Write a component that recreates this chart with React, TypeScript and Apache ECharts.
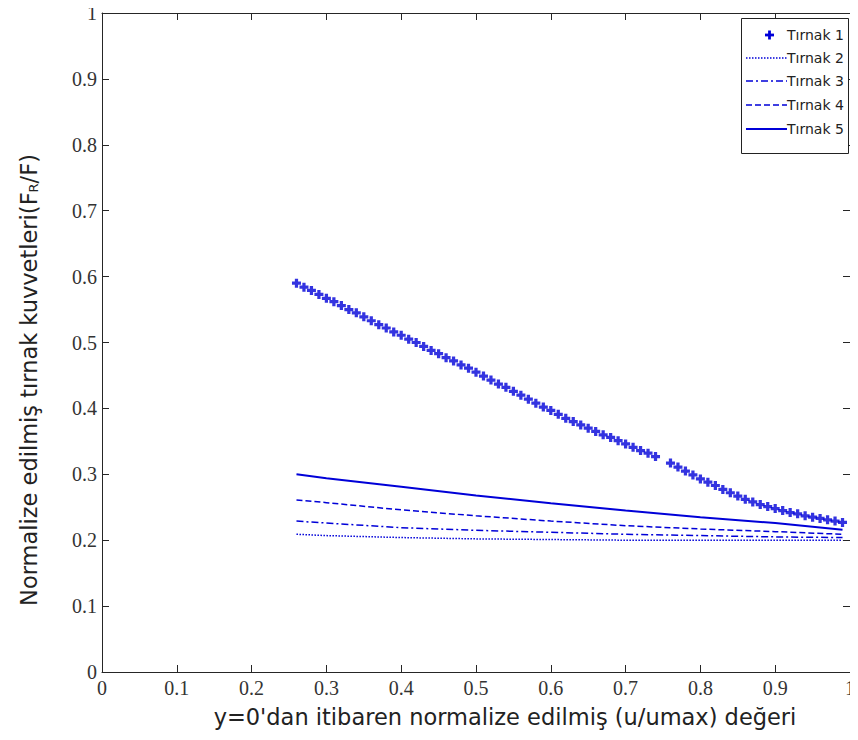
import React, { useEffect, useRef } from "react";
import * as echarts from "echarts";

// Tırnak 1 (plus markers), x from 0.26 to 0.99, one point missing at 0.75
const t1X = [
  0.26, 0.27, 0.28, 0.29, 0.30, 0.31, 0.32, 0.33, 0.34, 0.35, 0.36, 0.37, 0.38, 0.39,
  0.40, 0.41, 0.42, 0.43, 0.44, 0.45, 0.46, 0.47, 0.48, 0.49, 0.50, 0.51, 0.52, 0.53,
  0.54, 0.55, 0.56, 0.57, 0.58, 0.59, 0.60, 0.61, 0.62, 0.63, 0.64, 0.65, 0.66, 0.67,
  0.68, 0.69, 0.70, 0.71, 0.72, 0.73, 0.74, 0.76, 0.77, 0.78, 0.79, 0.80, 0.81, 0.82,
  0.83, 0.84, 0.85, 0.86, 0.87, 0.88, 0.89, 0.90, 0.91, 0.92, 0.93, 0.94, 0.95, 0.96,
  0.97, 0.98, 0.99,
];
const t1Y = [
  0.590, 0.584, 0.579, 0.573, 0.567, 0.562, 0.556, 0.550, 0.545, 0.539, 0.533, 0.527, 0.522, 0.516,
  0.511, 0.505, 0.500, 0.494, 0.488, 0.483, 0.477, 0.472, 0.466, 0.461, 0.455, 0.449, 0.443, 0.437,
  0.432, 0.426, 0.420, 0.414, 0.408, 0.402, 0.397, 0.391, 0.385, 0.380, 0.375, 0.370, 0.365, 0.360,
  0.356, 0.351, 0.346, 0.341, 0.336, 0.332, 0.327, 0.317, 0.311, 0.305, 0.299, 0.293, 0.288, 0.283,
  0.277, 0.272, 0.267, 0.262, 0.258, 0.254, 0.251, 0.248, 0.245, 0.242, 0.240, 0.237, 0.235, 0.233,
  0.231, 0.229, 0.227,
];

// Lines Tırnak 2..5
const lineX = [0.26, 0.3, 0.4, 0.5, 0.6, 0.7, 0.8, 0.9, 0.99];
const t2Y = [0.209, 0.207, 0.204, 0.202, 0.201, 0.200, 0.200, 0.200, 0.200];
const t3Y = [0.229, 0.226, 0.219, 0.215, 0.212, 0.209, 0.207, 0.205, 0.204];
const t4Y = [0.261, 0.257, 0.246, 0.237, 0.229, 0.222, 0.217, 0.213, 0.209];
const t5Y = [0.300, 0.294, 0.281, 0.268, 0.256, 0.245, 0.235, 0.226, 0.216];

const seriesNames = ["Tırnak 1", "Tırnak 2", "Tırnak 3", "Tırnak 4", "Tırnak 5"];
const xTitle = "y=0'dan itibaren normalize edilmiş (u/umax) değeri";

const BLUE = "#0000d8";
const PLUS = "path://M3.2,0H6.8V3.2H10V6.8H6.8V10H3.2V6.8H0V3.2H3.2Z";
const DASHES: any[] = [null, [1.5, 1.5], [7, 3, 2, 3], [6, 3], null];

const pair = (xs: number[], ys: number[]) => xs.map((x, i) => [x, ys[i]]);

export default function App() {
  const ref = useRef<HTMLDivElement>(null);
  useEffect(() => {
    if (!ref.current) return;
    const chart = echarts.init(ref.current, undefined, { renderer: "svg" });
    const axisColor = "#262626";
    const tickFont = {
      fontFamily: "Liberation Serif",
      fontSize: 20,
      color: "#333",
    };
    const lineSeries = (name: string, ys: number[], type: any, width = 1.5) => ({
      name,
      type: "line",
      data: pair(lineX, ys),
      showSymbol: false,
      symbol: "none",
      lineStyle: { color: BLUE, width, type },
      itemStyle: { color: BLUE },
    });
    const axisBase = (extra: any) => ({
      type: "value",
      min: 0,
      max: 1,
      interval: 0.1,
      axisLine: { show: true, onZero: false, lineStyle: { color: axisColor, width: 1 } },
      axisTick: { show: true, inside: true, length: 7, lineStyle: { color: axisColor } },
      splitLine: { show: false },
      ...extra,
    });

    // legend drawn by hand (boxed, MATLAB style)
    const lgTop = 18;
    const rowY = [35, 58, 81, 105, 129];
    const legendEls: any[] = [
      {
        type: "rect",
        shape: { x: 741.5, y: lgTop + 0.5, width: 107, height: 135 },
        style: { fill: "#fff", stroke: "#222", lineWidth: 1 },
        z: 100,
      },
    ];
    seriesNames.forEach((n, i) => {
      const y = rowY[i];
      if (i === 0) {
        legendEls.push({
          type: "rect",
          shape: { x: 765, y: y - 1.4, width: 9, height: 2.8 },
          style: { fill: BLUE },
          z: 101,
        });
        legendEls.push({
          type: "rect",
          shape: { x: 768.1, y: y - 4.5, width: 2.8, height: 9 },
          style: { fill: BLUE },
          z: 101,
        });
      } else {
        legendEls.push({
          type: "line",
          shape: { x1: 746, y1: y, x2: 787, y2: y },
          style: {
            stroke: BLUE,
            lineWidth: i === 4 ? 2 : 1.5,
            lineDash: DASHES[i] || undefined,
          },
          z: 101,
        });
      }
      legendEls.push({
        type: "text",
        x: 787,
        y,
        z: 101,
        style: {
          text: n,
          fontFamily: "DejaVu Sans",
          fontSize: 14,
          fill: "#222",
          align: "left",
          verticalAlign: "middle",
        },
      });
    });

    chart.setOption({
      animation: false,
      backgroundColor: "#fff",
      grid: { left: 102, right: 5, top: 13, bottom: 68 },
      xAxis: [
        axisBase({
          axisLabel: { show: true, ...tickFont, margin: 6 },
        }),
        axisBase({ position: "top", axisLabel: { show: false } }),
      ],
      yAxis: [
        axisBase({
          axisLabel: { show: true, ...tickFont, margin: 5 },
        }),
        axisBase({ position: "right", axisLabel: { show: false } }),
      ],
      series: [
        {
          name: seriesNames[0],
          type: "scatter",
          data: pair(t1X, t1Y),
          symbol: PLUS,
          symbolSize: 9,
          itemStyle: { color: BLUE },
        },
        lineSeries(seriesNames[1], t2Y, DASHES[1], 1.5),
        lineSeries(seriesNames[2], t3Y, DASHES[2], 1.5),
        lineSeries(seriesNames[3], t4Y, DASHES[3], 1.5),
        lineSeries(seriesNames[4], t5Y, "solid", 2),
      ],
      graphic: [
        {
          type: "text",
          x: 505,
          y: 717,
          style: {
            text: xTitle,
            fontFamily: "DejaVu Sans",
            fontSize: 22.5,
            fill: "#222",
            align: "center",
            verticalAlign: "middle",
          },
        },
        {
          type: "text",
          x: 29,
          y: 380,
          rotation: Math.PI / 2,
          style: {
            text: "{a|Normalize edilmiş tırnak kuvvetleri(F}{s|R}{a|/F)}",
            align: "center",
            verticalAlign: "middle",
            rich: {
              a: { fontFamily: "DejaVu Sans", fontSize: 22.5, fill: "#222" },
              s: { fontFamily: "DejaVu Sans", fontSize: 13, fill: "#222", padding: [9, 0, 0, 0] },
            },
          },
        },
        ...legendEls,
      ],
    });
    return () => chart.dispose();
  }, []);
  return <div ref={ref} style={{ width: 858, height: 740, margin: -8 }} />;
}
